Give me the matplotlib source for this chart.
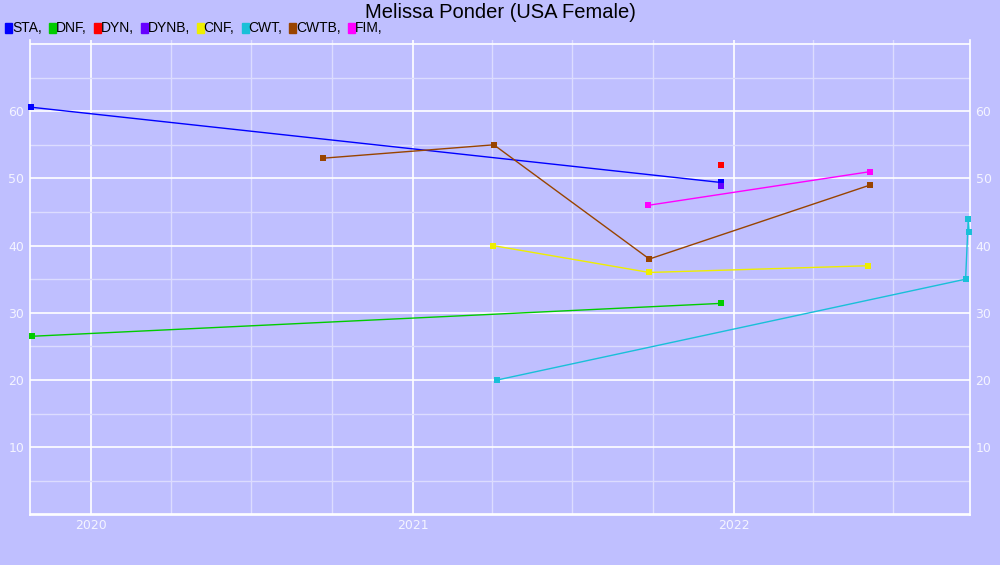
import pandas as pd
import matplotlib
matplotlib.use("Agg")
import matplotlib.pyplot as plt
import matplotlib.dates as mdates
from matplotlib.patches import Rectangle
from matplotlib.ticker import MultipleLocator, FuncFormatter

# disciplines in legend order
disciplines = ["STA", "DNF", "DYN", "DYNB", "CNF", "CWT", "CWTB", "FIM"]
colors = ["#0000FF", "#00CC00", "#FF0000", "#6600FF", "#EEEE00", "#19C0D8", "#994400", "#FF00FF"]

sta_dates = ["2019-10-24", "2021-12-17"]
sta_vals = [60.6, 49.4]
dnf_dates = ["2019-10-25", "2021-12-18"]
dnf_vals = [26.5, 31.4]
dyn_dates = ["2021-12-18"]
dyn_vals = [52.0]
dynb_dates = ["2021-12-17"]
dynb_vals = [48.9]
cnf_dates = ["2021-04-02", "2021-09-27", "2022-06-03"]
cnf_vals = [40.0, 36.0, 37.0]
cwt_dates = ["2021-04-07", "2022-09-22", "2022-09-25", "2022-09-26"]
cwt_vals = [20.0, 35.0, 44.0, 42.0]
cwtb_dates = ["2020-09-20", "2021-04-03", "2021-09-27", "2022-06-05"]
cwtb_vals = [53.0, 55.0, 38.0, 49.0]
fim_dates = ["2021-09-26", "2022-06-05"]
fim_vals = [46.0, 51.0]

series = {
    "STA": (sta_dates, sta_vals),
    "DNF": (dnf_dates, dnf_vals),
    "DYN": (dyn_dates, dyn_vals),
    "DYNB": (dynb_dates, dynb_vals),
    "CNF": (cnf_dates, cnf_vals),
    "CWT": (cwt_dates, cwt_vals),
    "CWTB": (cwtb_dates, cwtb_vals),
    "FIM": (fim_dates, fim_vals),
}

bg = "#BFBFFF"
plt.rcParams['font.family'] = ['Liberation Sans', 'DejaVu Sans']

fig = plt.figure(figsize=(10, 5.65), dpi=100, facecolor=bg)
ax = fig.add_axes([0.03, 1 - 515 / 565, 0.94, 475 / 565])
ax.set_facecolor(bg)

for name, col in zip(disciplines, colors):
    d, v = series[name]
    ax.plot(pd.to_datetime(d), v, color=col, lw=1, marker="s", ms=4.8,
            markeredgewidth=0, zorder=3, clip_on=False)

ax.set_xlim(pd.Timestamp("2019-10-23"), pd.Timestamp("2022-09-27"))
ax.set_ylim(-0.1, 70.6)

ax.xaxis.set_major_locator(mdates.YearLocator())
ax.xaxis.set_major_formatter(mdates.DateFormatter("%Y"))
ax.xaxis.set_minor_locator(mdates.MonthLocator(bymonth=[4, 7, 10]))
ax.yaxis.set_major_locator(MultipleLocator(10))
ax.yaxis.set_minor_locator(MultipleLocator(5))
ax.yaxis.set_major_formatter(FuncFormatter(lambda v, p: "%d" % v if 5 < v < 65 else ""))

ax.grid(which="major", color="white", lw=1.2, zorder=1)
ax.grid(which="minor", color="#DCDCFF", lw=1, zorder=1)

ax.spines["top"].set_visible(False)
for s in ["left", "right", "bottom"]:
    ax.spines[s].set_color("white")
    ax.spines[s].set_linewidth(1.2)

ax.tick_params(which="both", length=0, colors="#F4F4FF", labelsize=9,
               labelright=True, pad=4)
for lab in ax.get_xticklabels() + ax.get_yticklabels():
    lab.set_family("DejaVu Sans")
ax.tick_params(axis="x", pad=3)

fig.text(0.5, 1 - 13 / 565, "Melissa Ponder (USA Female)", ha="center", va="center",
         fontsize=14.5, color="black")

# legend row along the top
fig.canvas.draw()
r = fig.canvas.get_renderer()
x = 5
ytxt = 1 - 28 / 565
for name, col in zip(disciplines, colors):
    fig.patches.append(Rectangle((x / 1000, 1 - 33 / 565), 7 / 1000, 10 / 565,
                                 transform=fig.transFigure, color=col, figure=fig))
    t = fig.text((x + 7) / 1000, ytxt, name + ",", ha="left", va="center",
                 fontsize=10, color="black")
    w = t.get_window_extent(r).width
    x = x + 7 + w + 7

fig.savefig("out.png", dpi=100, facecolor=bg)
